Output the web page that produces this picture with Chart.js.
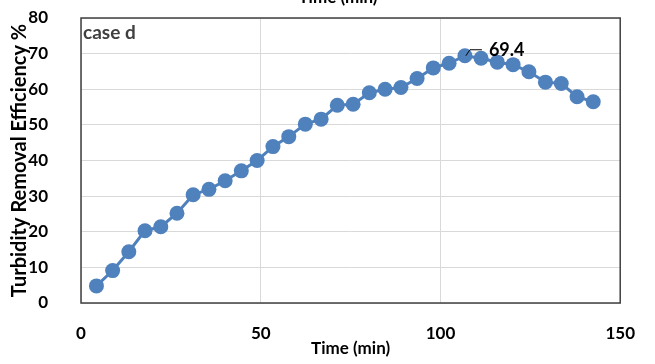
<!DOCTYPE html>
<html>
<head>
<meta charset="utf-8">
<script src="https://cdn.jsdelivr.net/npm/chart.js@4.4.1/dist/chart.umd.min.js"></script>
<style>
  html, body { margin: 0; padding: 0; background: #fff; }
  #wrap { width: 655px; height: 364px; position: relative; }
</style>
</head>
<body>
<div id="wrap"><canvas id="chart"></canvas></div>
<script>
// time (min) and turbidity removal efficiency (%)
const timeMin = [4.3, 8.8, 13.3, 17.8, 22.2, 26.7, 31.2, 35.6, 40.1, 44.6, 49.0, 53.4, 57.8, 62.4, 66.8, 71.3,
  75.7, 80.2, 84.6, 89.0, 93.5, 98.0, 102.4, 106.8, 111.3, 115.8, 120.2, 124.6, 129.2, 133.6, 138.0, 142.5];
const efficiency = [4.8, 9.1, 14.4, 20.3, 21.4, 25.2, 30.4, 31.9, 34.3, 37.1, 40.0, 43.9, 46.7, 50.2, 51.6, 55.5,
  55.8, 59.0, 60.0, 60.5, 63.0, 66.0, 67.3, 69.4, 68.7, 67.6, 66.9, 64.9, 62.0, 61.6, 57.9, 56.5];
const xTicks = [0, 50, 100, 150];
const yTicks = [0, 10, 20, 30, 40, 50, 60, 70, 80];
const peakIndex = 23;
const caseLabel = 'case d';

const FONT = 'Lato, "Liberation Sans", sans-serif';
const blue = '#4f81bd';

const frame = {
  id: 'frame',
  beforeDatasetsDraw(chart) {
    const { ctx, chartArea: a } = chart;
    ctx.save();
    ctx.strokeStyle = '#404040';
    ctx.lineWidth = 1.5;
    ctx.strokeRect(a.left, a.top, a.right - a.left, a.bottom - a.top);
    ctx.font = 'bold 19px ' + FONT;
    ctx.fillStyle = '#404040';
    ctx.textBaseline = 'middle';
    ctx.fillText(caseLabel, a.left + 2, a.top + 15);
    // clipped axis title left over above the plot
    ctx.fillStyle = '#000';
    ctx.font = 'bold 17px ' + FONT;
    ctx.textAlign = 'center';
    ctx.fillText('Time (min)', 338, -2);
    ctx.restore();
  },
  afterDatasetsDraw(chart) {
    const { ctx, scales } = chart;
    const px = scales.x.getPixelForValue(timeMin[peakIndex]);
    const py = scales.y.getPixelForValue(efficiency[peakIndex]);
    ctx.save();
    ctx.strokeStyle = '#000';
    ctx.lineWidth = 1;
    ctx.beginPath();
    ctx.moveTo(px + 1, py);
    ctx.lineTo(px + 5, py - 6);
    ctx.lineTo(px + 17, py - 6);
    ctx.stroke();
    ctx.font = 'bold 18px ' + FONT;
    ctx.fillStyle = '#000';
    ctx.textBaseline = 'middle';
    ctx.fillText(efficiency[peakIndex].toFixed(1), px + 24, py - 6);
    ctx.restore();
  }
};

new Chart(document.getElementById('chart'), {
  type: 'scatter',
  data: {
    datasets: [{
      data: timeMin.map((t, i) => ({ x: t, y: efficiency[i] })),
      showLine: true,
      borderColor: blue,
      backgroundColor: blue,
      borderWidth: 3,
      pointRadius: 7.5,
      pointHoverRadius: 7.5,
      pointBorderWidth: 0
    }]
  },
  plugins: [frame],
  options: {
    responsive: true,
    maintainAspectRatio: false,
    animation: false,
    layout: { padding: { top: 18, right: 32, left: 0, bottom: 0 } },
    plugins: { legend: { display: false }, tooltip: { enabled: false } },
    scales: {
      x: {
        type: 'linear',
        min: 0, max: 150,
        afterBuildTicks: s => { s.ticks = xTicks.map(v => ({ value: v })); },
        afterFit: s => { s.height = 61; },
        grid: { color: '#d9d9d9', lineWidth: 1, drawTicks: false },
        border: { display: false },
        ticks: { padding: 20, color: '#000', font: { family: FONT, size: 17, weight: 'bold' } },
        title: { display: true, text: 'Time (min)', color: '#000', padding: { top: 0, bottom: 5 },
          font: { family: FONT, size: 17, weight: 'bold' } }
      },
      y: {
        min: 0, max: 80,
        afterBuildTicks: s => { s.ticks = yTicks.map(v => ({ value: v })); },
        afterFit: s => { s.width = 81; s.paddingTop = 0; s.paddingBottom = 0; },
        grid: { color: '#d9d9d9', lineWidth: 1, drawTicks: false },
        border: { display: false },
        ticks: { padding: 33, color: '#000', font: { family: FONT, size: 17, weight: 'bold' } },
        title: { display: true, text: 'Turbidity Removal Efficiency %', color: '#000', padding: { top: 8, bottom: 0 },
          font: { family: FONT, size: 20, weight: 'bold' } }
      }
    }
  }
});
</script>
</body>
</html>
